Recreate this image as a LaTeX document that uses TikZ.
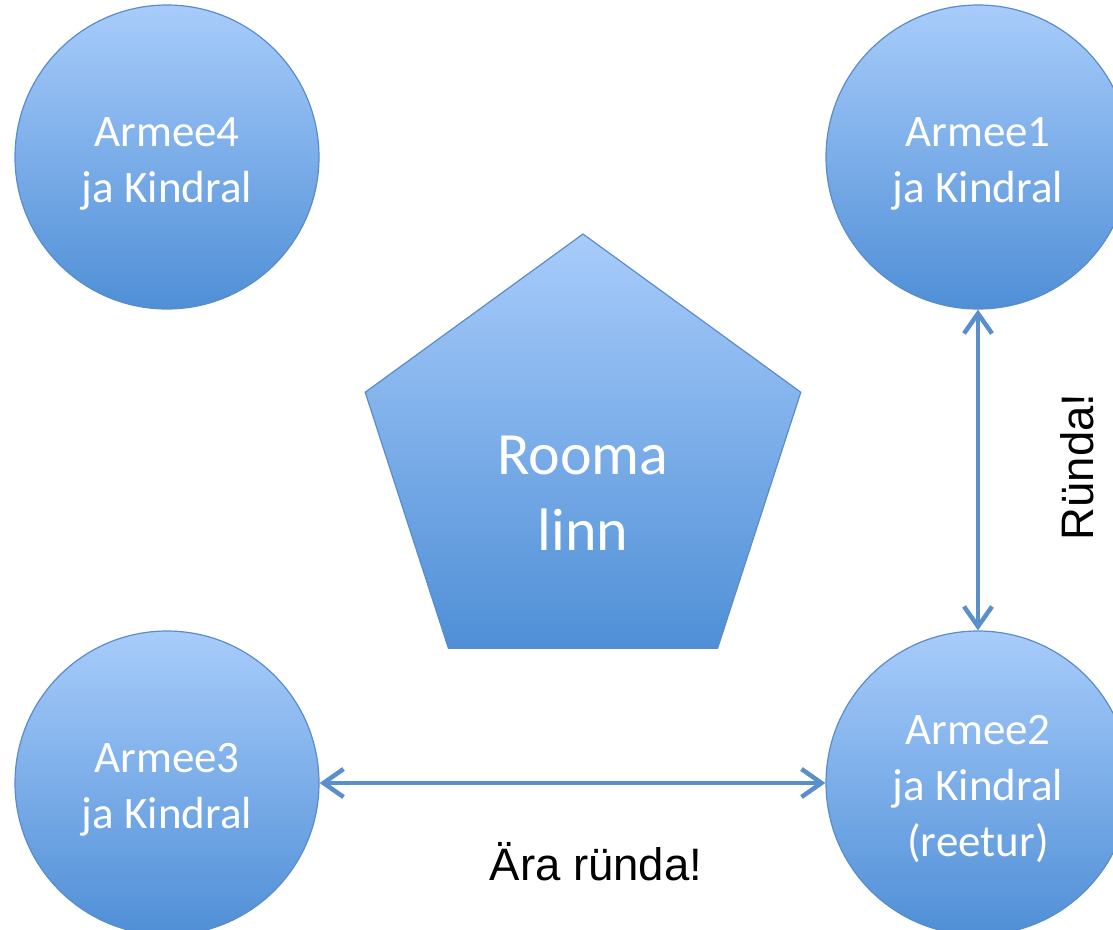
\documentclass[tikz,border=0pt]{standalone}
\usepackage{fontspec}
\newfontfamily\calfont{Carlito}
\newfontfamily\arifont{Liberation Sans}
\usetikzlibrary{arrows.meta,shapes.geometric}
\definecolor{topblue}{HTML}{A8CCFB}
\definecolor{botblue}{HTML}{4F8FD6}
\definecolor{edgeblue}{HTML}{5A8CCB}
\definecolor{arrowblue}{HTML}{5B8FCB}
\tikzset{
  army/.style={circle, minimum size=304pt, inner sep=0pt, draw=edgeblue, line width=1.2pt,
    top color=topblue, bottom color=botblue},
  armytext/.style={text=white, align=center, inner sep=0pt,
    font=\calfont\fontsize{45}{56}\selectfont},
  pent/.style={regular polygon, regular polygon sides=5, minimum size=458pt, inner sep=0pt,
    draw=edgeblue, line width=1.2pt, top color=topblue, bottom color=botblue},
  penttext/.style={text=white, align=center, inner sep=0pt, font=\calfont\fontsize{60}{76}\selectfont},
  conn/.style={draw=arrowblue, line width=4.5pt, {Straight Barb[length=20pt,width=28pt]}-{Straight Barb[length=20pt,width=28pt]}},
  lbl/.style={text=black, font=\arifont\fontsize{45.5}{54}\selectfont, inner sep=0pt}
}
\begin{document}
\begin{tikzpicture}[x=1pt,y=-1pt]
\useasboundingbox (0,0) rectangle (1113,929);
\clip (0,0) rectangle (1113,929);
\node[army] (a4) at (167,157) {};
\node[army] (a1) at (978,157) {};
\node[army] (a3) at (167,783) {};
\node[army] (a2) at (978,783) {};
\node[armytext] (t4) at (167,164) {Armee4\\ja Kindral};
\node[armytext] (t1) at (978,164) {Armee1\\ja Kindral};
\node[armytext] (t3) at (167,790) {Armee3\\ja Kindral};
\node[armytext] (t2) at (978,789) {Armee2\\ja Kindral\\(reetur)};
\node[pent] (rome) at (583,463) {};
\node[penttext] (rometext) at (583,493) {Rooma\\linn};
\draw[conn] (a1) -- (a2);
\draw[conn] (a3) -- (a2);
\node[lbl, anchor=base] (l1) at (596,880) {Ära ründa!};
\node[lbl, anchor=base, rotate=90] (l2) at (1093,467) {Ründa!};
\end{tikzpicture}
\end{document}
